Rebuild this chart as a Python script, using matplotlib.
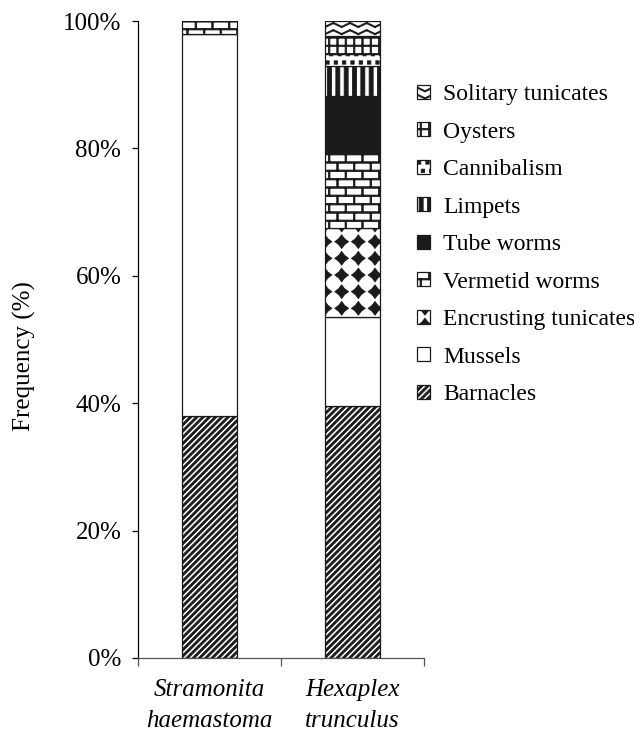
import warnings
import numpy as np
import matplotlib
matplotlib.use("Agg")
import matplotlib.pyplot as plt
from matplotlib import hatch as mhatch
from matplotlib.path import Path
from matplotlib.ticker import FuncFormatter, FixedLocator

warnings.filterwarnings("ignore")

species = ["Stramonita\nhaemastoma", "Hexaplex\ntrunculus"]
prey = ["Barnacles", "Mussels", "Encrusting tunicates", "Vermetid worms",
        "Tube worms", "Limpets", "Cannibalism", "Oysters", "Solitary tunicates"]
stramonita = [38.0, 60.0, 0.0, 2.0, 0.0, 0.0, 0.0, 0.0, 0.0]
hexaplex = [39.6, 13.9, 14.0, 11.8, 8.9, 4.7, 1.9, 2.8, 2.4]
y_ticks = [0, 20, 40, 60, 80, 100]


# hatch textures made of filled polygons in the unit tile (tile = 1 inch)
def seg(p, q, t):
    p, q = np.array(p, float), np.array(q, float)
    d = (q - p) / np.hypot(*(q - p))
    nrm = np.array([-d[1], d[0]]) * t / 2
    return [p + nrm, q + nrm, q - nrm, p - nrm]


class PolyHatch(mhatch.HatchPatternBase):
    char = "?"

    def __init__(self, hatch, density):
        count = hatch.count(self.char)
        self.polys = self.make(count) if count else []
        self.num_vertices = sum(len(p) + 1 for p in self.polys)

    def set_vertices_and_codes(self, vertices, codes):
        i = 0
        for p in self.polys:
            k = len(p)
            vertices[i:i + k] = p
            vertices[i + k] = p[0]
            codes[i] = Path.MOVETO
            codes[i + 1:i + k] = Path.LINETO
            codes[i + k] = Path.CLOSEPOLY
            i += k + 1


class Diagonal(PolyHatch):
    char = "k"

    def make(self, c):
        n, w = 16 * c, 0.028
        return [[(k / n, 0), (k / n + w, 0), (k / n + w + 1, 1), (k / n + 1, 1)]
                for k in range(-n, n)]


class Vertical(PolyHatch):
    char = "v"

    def make(self, c):
        n, w = 12 * c, 0.04
        return [[((k + 0.3) / n, -0.1), ((k + 0.3) / n + w, -0.1),
                 ((k + 0.3) / n + w, 1.1), ((k + 0.3) / n, 1.1)] for k in range(n)]


class Bricks(PolyHatch):
    char = "b"

    def make(self, c):
        n, m, t = 12 * c, 6 * c, 0.015
        out = [seg((-0.1, (i + 0.5) / n), (1.1, (i + 0.5) / n), t) for i in range(n)]
        for i in range(n + 1):
            for k in range(m):
                xk = (k + 0.25 + 0.5 * (i % 2)) / m
                out.append(seg((xk, (i - 0.5) / n), (xk, (i + 0.5) / n), t))
        return out


class Grid(PolyHatch):
    char = "g"

    def make(self, c):
        n, t = 12 * c, 0.014
        out = [seg((-0.1, (i + 0.5) / n), (1.1, (i + 0.5) / n), t) for i in range(n)]
        out += [seg(((i + 0.5) / n, -0.1), ((i + 0.5) / n, 1.1), t) for i in range(n)]
        return out


class Waves(PolyHatch):
    char = "w"

    def make(self, c):
        n, m, amp, t = 14 * c, 6 * c, 0.02, 0.012
        out = []
        for j in range(n):
            yc = (j + 0.5) / n
            for k in range(-1, 2 * m + 1):
                s = 1 if k % 2 == 0 else -1
                out.append(seg((k / (2 * m), yc + s * amp),
                               ((k + 1) / (2 * m), yc - s * amp), t))
        return out


class Diamonds(PolyHatch):
    char = "d"

    def make(self, c):
        n = 6 * c
        R, r = 0.41 / n, 0.25 / n
        ang = np.arange(8) * np.pi / 4 + np.pi / 2
        rad = np.where(np.arange(8) % 2 == 0, R, r)
        shape = np.column_stack([rad * np.cos(ang), rad * np.sin(ang)])
        return [shape + [(j + 0.5) / n, (i + 0.5) / n]
                for i in range(n) for j in range(n)]


class Squares(PolyHatch):
    char = "q"

    def make(self, c):
        n = 12 * c
        s = 0.2 / n
        out = []
        for i in range(n):
            for j in range(n):
                cx = (j + 0.3 + 0.45 * (i % 2)) / n
                cy = (i + 0.5) / n
                out.append([(cx - s, cy - s), (cx + s, cy - s),
                            (cx + s, cy + s), (cx - s, cy + s)])
        return out


mhatch._hatch_types += [Diagonal, Vertical, Bricks, Grid, Waves, Diamonds, Squares]

styles = {
    "Barnacles": dict(color="white", hatch="k"),
    "Mussels": dict(color="white", hatch=None),
    "Encrusting tunicates": dict(color="white", hatch="d"),
    "Vermetid worms": dict(color="white", hatch="b"),
    "Tube worms": dict(color="#1a1a1a", hatch=None),
    "Limpets": dict(color="white", hatch="v"),
    "Cannibalism": dict(color="white", hatch="q"),
    "Oysters": dict(color="white", hatch="g"),
    "Solitary tunicates": dict(color="white", hatch="w"),
}

plt.rcParams["font.family"] = ["Liberation Serif", "DejaVu Serif"]
plt.rcParams["font.size"] = 18
plt.rcParams["hatch.color"] = "#1a1a1a"
plt.rcParams["hatch.linewidth"] = 0.6

fig = plt.figure(figsize=(6.34, 7.38), dpi=100)
ax = fig.add_axes([138 / 634, 1 - 658 / 738, 286 / 634, 637 / 738])

x = np.arange(len(species))
data = np.array([stramonita, hexaplex])
bottom = np.zeros(len(species))
handles = []
for i, name in enumerate(prey):
    st = styles[name]
    bars = ax.bar(x, data[:, i], 0.39, bottom=bottom, color=st["color"],
                  edgecolor="#1a1a1a", linewidth=0.9, hatch=st["hatch"])
    bottom += data[:, i]
    handles.append(bars)

ax.set_xlim(-0.5, 1.5)
ax.set_ylim(0, 100)
ax.yaxis.set_major_locator(FixedLocator(y_ticks))
ax.yaxis.set_major_formatter(FuncFormatter(lambda v, p: "%d%%" % v))
ax.set_xticks(x)
ax.set_xticklabels(species, style="italic", linespacing=1.55)
ax.set_xticks([-0.5, 0.5, 1.5], minor=True)
ax.tick_params(axis="x", which="major", length=0, pad=15)
ax.tick_params(axis="x", which="minor", length=6, width=0.9, color="#555555")
ax.tick_params(axis="y", length=4, width=0.9, pad=8)
for side in ["top", "right"]:
    ax.spines[side].set_visible(False)
ax.spines["left"].set_linewidth(0.9)
ax.spines["bottom"].set_linewidth(0.9)
ax.spines["bottom"].set_color("#555555")

ax.set_ylabel("Frequency (%)")
ax.yaxis.set_label_coords(-0.357, 0.474)

leg = fig.legend(handles[::-1], prey[::-1], loc="upper left",
                 bbox_to_anchor=(417 / 634, 1 - 84 / 738), frameon=False,
                 fontsize=17, handlelength=0.55, handleheight=0.55,
                 handletextpad=0.55, labelspacing=0.70, borderpad=0,
                 borderaxespad=0)

fig.savefig("out.png", dpi=100)
